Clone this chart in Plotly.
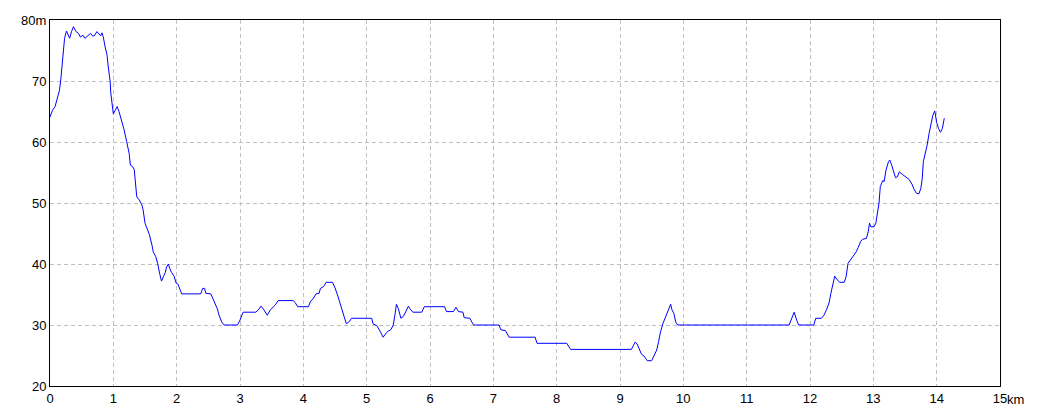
import plotly.graph_objects as go

dist_km = [0.00, 0.04, 0.08, 0.12, 0.15, 0.17, 0.20, 0.23, 0.26, 0.31, 0.34, 0.37, 0.41, 0.45, 0.48,
           0.52, 0.55, 0.60, 0.64, 0.67, 0.70, 0.74, 0.77, 0.80, 0.82, 0.84, 0.87, 0.90, 0.92, 0.95,
           0.96, 0.99, 1.00, 1.03, 1.06, 1.09, 1.13, 1.17, 1.21, 1.25, 1.27, 1.30, 1.33, 1.35, 1.37,
           1.41, 1.45, 1.47, 1.50, 1.53, 1.57, 1.61, 1.63, 1.67, 1.70, 1.73, 1.76, 1.79, 1.82, 1.84,
           1.87, 1.89, 1.92, 1.96, 1.99, 2.02, 2.05, 2.08, 2.38, 2.41, 2.44, 2.46, 2.54, 2.57, 2.61,
           2.64, 2.67, 2.71, 2.75, 2.96, 3.00, 3.05, 3.25, 3.30, 3.33, 3.37, 3.43, 3.48, 3.53, 3.56,
           3.60, 3.84, 3.87, 3.91, 4.08, 4.11, 4.16, 4.20, 4.25, 4.27, 4.32, 4.36, 4.46, 4.50, 4.55,
           4.60, 4.64, 4.68, 4.73, 4.76, 5.08, 5.10, 5.16, 5.20, 5.24, 5.26, 5.31, 5.34, 5.38, 5.42,
           5.45, 5.47, 5.50, 5.54, 5.58, 5.62, 5.66, 5.68, 5.73, 5.87, 5.91, 6.23, 6.26, 6.37, 6.41,
           6.45, 6.52, 6.54, 6.63, 6.66, 6.69, 7.09, 7.12, 7.19, 7.25, 7.66, 7.69, 8.16, 8.20, 8.22,
           9.18, 9.21, 9.24, 9.27, 9.30, 9.34, 9.38, 9.43, 9.50, 9.54, 9.58, 9.61, 9.64, 9.68, 9.72,
           9.76, 9.80, 9.82, 9.85, 9.88, 9.91, 11.67, 11.70, 11.75, 11.79, 11.82, 12.06, 12.09, 12.18,
           12.22, 12.26, 12.30, 12.33, 12.36, 12.39, 12.43, 12.47, 12.54, 12.57, 12.60, 12.64, 12.68,
           12.73, 12.76, 12.80, 12.83, 12.89, 12.92, 12.94, 12.96, 13.01, 13.04, 13.07, 13.09, 13.11,
           13.15, 13.17, 13.20, 13.24, 13.26, 13.29, 13.32, 13.35, 13.38, 13.41, 13.47, 13.53, 13.56,
           13.61, 13.64, 13.68, 13.72, 13.75, 13.77, 13.79, 13.82, 13.85, 13.88, 13.91, 13.94, 13.97,
           14.00, 14.03, 14.06, 14.09, 14.12]

elev_m = [64.1, 65.2, 65.8, 67.2, 68.5, 70.2, 73.2, 77.0, 78.2, 77.0, 78.1, 78.9, 78.1, 77.8, 77.2,
          77.5, 77.0, 77.5, 77.8, 77.4, 77.4, 78.1, 77.7, 77.4, 77.9, 77.3, 75.6, 74.3, 72.3, 69.9,
          68.0, 65.8, 64.6, 65.2, 65.8, 65.0, 63.6, 62.0, 60.1, 58.1, 56.2, 56.0, 55.5, 52.7, 51.0,
          50.5, 49.7, 48.9, 46.7, 45.9, 44.8, 43.1, 42.0, 41.2, 40.1, 38.5, 37.2, 37.9, 38.6, 39.5,
          40.0, 39.3, 38.6, 38.0, 36.9, 36.7, 35.7, 35.1, 35.1, 36.0, 36.0, 35.2, 35.1, 34.4, 33.6,
          32.7, 31.6, 30.5, 30.0, 30.0, 30.8, 32.1, 32.1, 32.6, 33.1, 32.6, 31.6, 32.5, 33.0, 33.3,
          34.0, 34.0, 33.7, 33.0, 33.0, 33.8, 34.4, 35.1, 35.2, 36.0, 36.3, 37.0, 37.0, 36.1, 34.6,
          32.7, 31.5, 30.2, 30.6, 31.1, 31.1, 30.2, 29.9, 29.2, 28.4, 28.0, 28.7, 29.0, 29.2, 30.0,
          31.9, 33.4, 32.7, 31.1, 31.4, 32.3, 33.1, 32.7, 32.1, 32.1, 33.0, 33.0, 32.2, 32.2, 32.9,
          32.2, 32.1, 31.2, 31.1, 30.5, 30.0, 30.0, 29.2, 29.1, 28.0, 28.0, 27.0, 27.0, 26.3, 26.0,
          26.0, 26.7, 27.2, 26.9, 26.2, 25.2, 24.9, 24.15, 24.15, 24.9, 25.9, 27.3, 28.9, 30.3, 31.4,
          32.3, 33.4, 32.5, 31.9, 30.5, 30.0, 30.0, 30.9, 32.1, 30.8, 30.0, 30.0, 31.1, 31.1,
          31.6, 32.5, 33.6, 35.2, 36.6, 38.0, 37.4, 37.0, 37.0, 37.9, 40.1, 40.7, 41.3,
          42.0, 42.7, 43.7, 44.05, 44.2, 45.3, 46.7, 46.1, 46.1, 46.7, 48.3, 50.0, 52.7,
          53.7, 53.5, 55.4, 56.8, 57.05, 56.2, 55.1, 54.15, 54.3, 55.1, 54.6, 54.05, 53.9,
          53.1, 52.3, 51.6, 51.5, 52.4, 53.8, 56.8, 58.1, 59.5, 61.4, 63.1, 64.4, 65.1,
          63.2, 62.2, 61.6, 62.2, 63.9]

x_tick_vals = list(range(0, 16))
x_tick_text = [str(v) for v in x_tick_vals]
y_tick_vals = [20, 30, 40, 50, 60, 70, 80]
y_tick_text = ["20", "30", "40", "50", "60", "70", "80m"]

FONT = dict(family="Liberation Sans, Arial, sans-serif", size=13, color="black")

fig = go.Figure()
fig.add_trace(go.Scatter(x=dist_km, y=elev_m, mode="lines",
                         line=dict(color="#0000ff", width=1), hoverinfo="skip"))

axis_common = dict(showline=True, linecolor="black", linewidth=1, mirror=True,
                   showgrid=True, gridcolor="#c0c0c0", gridwidth=1, griddash="4px,3px",
                   zeroline=False, ticks="", tickfont=FONT, automargin=False)

fig.update_xaxes(range=[0, 15], tickvals=x_tick_vals, ticktext=x_tick_text,
                 ticklabelstandoff=0, **axis_common)
fig.update_yaxes(range=[20, 80], tickvals=y_tick_vals, ticktext=y_tick_text,
                 ticklabelstandoff=0, **axis_common)

fig.add_annotation(text="km", x=15, xref="x", y=0, yref="paper", xanchor="left",
                   yanchor="middle", xshift=5, yshift=-13, showarrow=False, font=FONT)

# page body has an 8px default margin, so the figure is sized to fit inside it
fig.update_layout(width=1032, height=408, margin=dict(l=42, r=40, t=12, b=30),
                  plot_bgcolor="white", paper_bgcolor="white", showlegend=False)

fig.write_html("out.html")
